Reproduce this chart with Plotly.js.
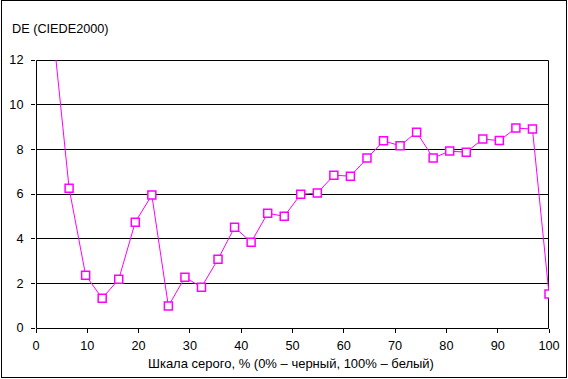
<!DOCTYPE html>
<html>
<head>
<meta charset="utf-8">
<script src="https://cdn.plot.ly/plotly-3.0.1.min.js"></script>
<style>
html,body{margin:0;padding:0;background:#fff;}
#wrap{position:relative;width:568px;height:379px;}
#chart{width:568px;height:379px;}
#frame{position:absolute;left:1px;top:0px;width:566px;height:378px;box-sizing:border-box;border:1px solid #000;pointer-events:none;}
</style>
</head>
<body>
<div id="wrap"><div id="chart"></div><div id="frame"></div></div>
<script>
var grayPercent = [3.226, 6.452, 9.677, 12.903, 16.129, 19.355, 22.581, 25.806, 29.032, 32.258,
  35.484, 38.710, 41.935, 45.161, 48.387, 51.613, 54.839, 58.065, 61.290, 64.516,
  67.742, 70.968, 74.194, 77.419, 80.645, 83.871, 87.097, 90.323, 93.548, 96.774, 100];
var deltaE = [13.5, 6.26, 2.36, 1.33, 2.18, 4.74, 5.95, 0.98, 2.27, 1.83,
  3.08, 4.51, 3.84, 5.14, 5.00, 5.99, 6.04, 6.84, 6.80, 7.61,
  8.38, 8.16, 8.77, 7.61, 7.92, 7.87, 8.46, 8.39, 8.95, 8.91, 1.52];
var xTicks = [0, 10, 20, 30, 40, 50, 60, 70, 80, 90, 100];
var yTicks = [0, 2, 4, 6, 8, 10, 12];
var yTitle = 'DE (CIEDE2000)';
var xTitle = 'Шкала серого, % (0% – черный, 100% – белый)';

var W = 513, H = 268;
var font = {family: 'Liberation Sans, Arial, sans-serif', size: 12.7, color: '#000'};
var xTitleFont = {family: 'Liberation Sans, Arial, sans-serif', size: 13, color: '#000'};
var trace = {
  x: grayPercent, y: deltaE, type: 'scatter', mode: 'lines+markers',
  line: {color: '#FF00FF', width: 1},
  marker: {symbol: 'square', size: 8, color: '#FFFFFF', line: {color: '#FF00FF', width: 1.5}},
  cliponaxis: true, hoverinfo: 'none'
};
var layout = {
  width: 568, height: 379,
  margin: {l: 36, r: 19, t: 60, b: 51, pad: 0},
  paper_bgcolor: '#fff', plot_bgcolor: 'rgba(0,0,0,0)',
  font: font, showlegend: false,
  xaxis: {range: [0, 100], tickvals: xTicks, ticktext: xTicks.map(String),
    ticks: 'outside', ticklen: 4, tickcolor: '#000', tickwidth: 1,
    showline: false, showgrid: false, zeroline: false, tickfont: font, ticklabelstandoff: 2, fixedrange: true},
  yaxis: {range: [0, 12], tickvals: yTicks, ticktext: yTicks.map(String),
    ticks: 'outside', ticklen: 4, tickcolor: '#000', tickwidth: 1,
    showline: false, showgrid: true, gridcolor: '#000', gridwidth: 1, zeroline: false, tickfont: font,
    ticklabelstandoff: 5, fixedrange: true},
  shapes: [
    {type: 'rect', xref: 'paper', yref: 'paper', x0: 0.5 / W, x1: 1 - 0.5 / W,
      y0: -0.5 / H, y1: 1 - 0.5 / H, line: {color: '#000', width: 1}, layer: 'below'}
  ],
  annotations: [
    {text: yTitle, xref: 'paper', yref: 'paper', x: (10 - 36) / W, y: 1 + (60 - 29) / H,
      xanchor: 'left', yanchor: 'middle', showarrow: false, font: font},
    {text: xTitle, xref: 'paper', yref: 'paper', x: (291 - 36) / W, y: -(363 - 328) / H,
      xanchor: 'center', yanchor: 'middle', showarrow: false, font: xTitleFont}
  ]
};
Plotly.newPlot('chart', [trace], layout, {staticPlot: true, displayModeBar: false});
</script>
</body>
</html>
